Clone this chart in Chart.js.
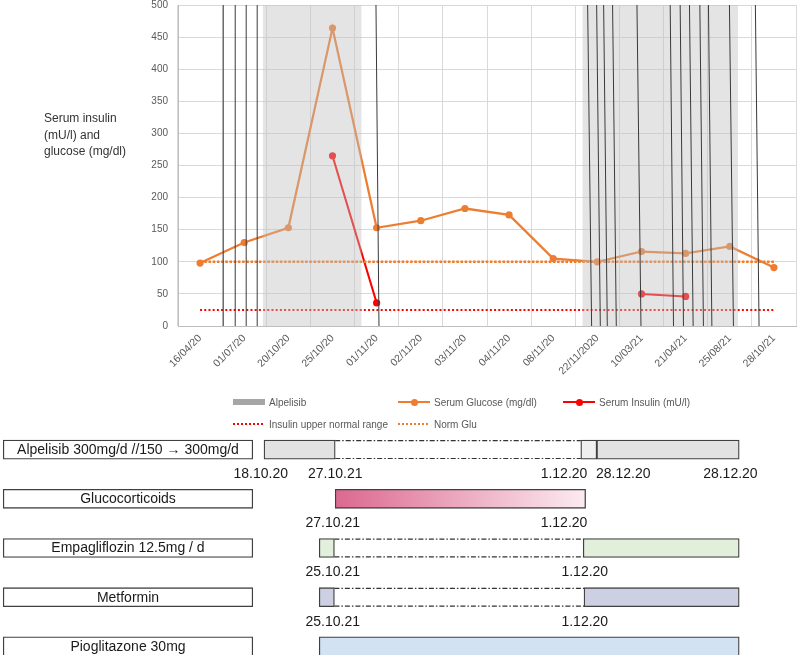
<!DOCTYPE html>
<html>
<head>
<meta charset="utf-8">
<script src="https://cdn.jsdelivr.net/npm/chart.js@4"></script>
<style>
  html, body { margin: 0; padding: 0; background: #fff; }
  #page { position: relative; width: 800px; height: 655px; overflow: hidden; background: #fff; font-family: "Liberation Sans", Arial, sans-serif; }
  #main { position: absolute; left: 0; top: 0; }
  #timeline { position: absolute; left: 0; top: 425px; }
  #ytitle { position: absolute; left: 44px; top: 110px; font-size: 12px; line-height: 16.7px; color: #333; }
  #legend { position: absolute; left: 233px; top: 393px; display: grid; grid-template-columns: 165px 165px 165px; row-gap: 4px; font-size: 10px; color: #595959; z-index: 2; }
  .li { display: flex; align-items: center; height: 18px; white-space: nowrap; }
  .sw { position: relative; width: 32px; height: 10px; margin-right: 4px; flex: none; }
</style>
</head>
<body>
<div id="page">
  <canvas id="main" width="800" height="390"></canvas>
  <div id="ytitle">Serum insulin<br>(mU/l) and<br>glucose (mg/dl)</div>
  <div id="legend"></div>
  <canvas id="timeline" width="800" height="246"></canvas>
</div>
<script>
// ---------- data: main chart ----------
const categories = ['16/04/20','01/07/20','20/10/20','25/10/20','01/11/20','02/11/20','03/11/20','04/11/20','08/11/20','22/11/2020','10/03/21','21/04/21','25/08/21','28/10/21'];
const serumGlucose = [98, 130, 153, 464, 153, 164, 183, 173, 105, 100, 116, 113, 124, 91];
const serumInsulin = [null, null, null, 265, 36, null, null, null, null, null, 50, 46, null, null];
const insulinUpperNormal = [25, 25, 25, 25, 25, 25, 25, 25, 25, 25, 25, 25, 25, 25];
const normGlu = [100, 100, 100, 100, 100, 100, 100, 100, 100, 100, 100, 100, 100, 100];
// Alpelisib periods in category-index units [start, end]
const alpelisibPeriods = [[1.42, 3.66], [8.66, 12.19]];
// event marker lines in category-index units [at y=0, at y=500]
const eventMarks = [[0.525,0.525],[0.796,0.796],[1.045,1.045],[1.294,1.294],[4.053,3.985],[8.870,8.780],[9.067,8.984],[9.225,9.142],[9.429,9.345],[9.988,9.897],[10.725,10.650],[10.951,10.876],[11.170,11.087],[11.403,11.322],[11.594,11.517],[12.083,11.992],[12.663,12.580]];
const yTicksMax = 500;

// ---------- data: treatment timeline ----------
const drugs = ['Alpelisib 300mg/d //150 \u2192 300mg/d', 'Glucocorticoids', 'Empagliflozin 12.5mg / d', 'Metformin', 'Pioglitazone 30mg'];
const labelSpan = [0.4, 31.6];
const alpelisibOn = [[33, 41.9], [74.6, 92.4]];
const alpelisibReduced = [[72.6, 74.6]];
const glucocorticoidSpan = [[41.9, 73.2]];
const empagliflozinOn = [[39.9, 41.8], [72.9, 92.4]];
const metforminOn = [[39.9, 41.8], [73.0, 92.4]];
const pioglitazoneOn = [[39.9, 92.4]];
const pauses = [[0, 41.9, 72.6], [2, 41.8, 72.9], [3, 41.8, 73.0]];
const dateLabels = [
  [0, 32.6, '18.10.20'], [0, 41.9, '27.10.21'], [0, 70.5, '1.12.20'], [0, 77.9, '28.12.20'], [0, 91.3, '28.12.20'],
  [1, 41.6, '27.10.21'], [1, 70.5, '1.12.20'],
  [2, 41.6, '25.10.21'], [2, 73.1, '1.12.20'],
  [3, 41.6, '25.10.21'], [3, 73.1, '1.12.20']
];

// ---------- main chart ----------
const GLU = '#ed7d31', INS = '#ff0000';
const datasets = [];
datasets.push({ label: 'Serum Glucose (mg/dl)', data: serumGlucose, borderColor: GLU, backgroundColor: GLU,
  borderWidth: 2.25, pointRadius: 3.6, pointBorderWidth: 0, order: 6 });
datasets.push({ label: 'Serum Insulin (mU/l)', data: serumInsulin, borderColor: INS, backgroundColor: INS,
  borderWidth: 2, pointRadius: 3.6, pointBorderWidth: 0, spanGaps: false, order: 5 });
datasets.push({ label: 'Insulin upper normal range', data: insulinUpperNormal, borderColor: INS,
  borderWidth: 2, borderDash: [2, 2.2], pointRadius: 0, order: 4 });
datasets.push({ label: 'Norm Glu', data: normGlu, borderColor: GLU,
  borderWidth: 2.6, borderDash: [2.6, 1.6], pointRadius: 0, order: 3 });
alpelisibPeriods.forEach((p, i) => datasets.push({
  label: i === 0 ? 'Alpelisib' : 'Alpelisib ' + i, xAxisID: 'xm',
  data: [{ x: p[0], y: yTicksMax }, { x: p[1], y: yTicksMax }],
  fill: 'origin', backgroundColor: 'rgba(190,190,190,0.42)', borderWidth: 0, pointRadius: 0, order: 2
}));
eventMarks.forEach((m, i) => datasets.push({
  label: 'mark' + i, xAxisID: 'xm',
  data: [{ x: m[0], y: 0 }, { x: m[1], y: yTicksMax }],
  borderColor: '#3a3a3a', borderWidth: 1, pointRadius: 0, fill: false, order: 1
}));

new Chart(document.getElementById('main'), {
  type: 'line',
  data: { labels: categories, datasets },
  options: {
    responsive: false, animation: false, devicePixelRatio: 1,
    layout: { padding: { top: 5, right: 3, left: 0, bottom: 0 } },
    plugins: { legend: { display: false }, tooltip: { enabled: false } },
    scales: {
      x: {
        type: 'category', offset: true,
        grid: { offset: true, color: '#d9d9d9', drawTicks: false },
        border: { color: '#bfbfbf' },
        ticks: { autoSkip: false, maxRotation: 45, minRotation: 45, color: '#595959', padding: 6,
          font: { family: 'Liberation Sans', size: 10.5 } },
        afterFit: s => { s.height = 64; s.paddingTop = 0; }
      },
      xm: { type: 'linear', display: false, min: -0.5, max: 13.5 },
      y: {
        min: 0, max: yTicksMax,
        ticks: { stepSize: 50, color: '#595959', padding: 10, font: { family: 'Liberation Sans', size: 10 } },
        grid: { color: '#d9d9d9', drawTicks: false },
        border: { color: '#bfbfbf' },
        afterFit: s => { s.width = 178; s.paddingTop = 0; s.paddingBottom = 0; }
      }
    }
  }
});

// ---------- HTML legend ----------
const legendItems = [
  { text: 'Alpelisib', sw: '<div style="position:absolute;left:0;top:2px;width:32px;height:6px;background:#a6a6a6"></div>' },
  { text: 'Serum Glucose (mg/dl)', sw: '<div style="position:absolute;left:0;top:4px;width:32px;height:2px;background:' + GLU + '"></div><div style="position:absolute;left:13px;top:1.5px;width:7px;height:7px;border-radius:50%;background:' + GLU + '"></div>' },
  { text: 'Serum Insulin (mU/l)', sw: '<div style="position:absolute;left:0;top:4px;width:32px;height:2px;background:' + INS + '"></div><div style="position:absolute;left:13px;top:1.5px;width:7px;height:7px;border-radius:50%;background:' + INS + '"></div>' },
  { text: 'Insulin upper normal range', sw: '<div style="position:absolute;left:0;top:4px;width:30px;height:0;border-top:2px dotted ' + INS + '"></div>' },
  { text: 'Norm Glu', sw: '<div style="position:absolute;left:0;top:4px;width:30px;height:0;border-top:2px dotted ' + GLU + '"></div>' }
];
document.getElementById('legend').innerHTML = legendItems.map(it =>
  '<div class="li"><div class="sw">' + it.sw + '</div><span>' + it.text + '</span></div>').join('');

// ---------- timeline chart ----------
const toRows = (spans, row) => spans.map(s => ({ x: [s[0], s[1]], y: row }));
const BORDER = '#404040';
const tds = [];
tds.push({ label: 'pause', data: pauses.map(p => ({ x: [p[1], p[2]], y: p[0] })),
  backgroundColor: 'rgba(0,0,0,0)', borderWidth: 0 });
tds.push({ label: 'labels', data: drugs.map((d, i) => ({ x: labelSpan, y: i })),
  backgroundColor: '#ffffff', borderColor: BORDER, borderWidth: 1.3 });
tds.push({ label: 'Alpelisib', data: toRows(alpelisibOn, 0), backgroundColor: '#e2e2e2', borderColor: BORDER, borderWidth: 1.3 });
tds.push({ label: 'Alpelisib reduced', data: toRows(alpelisibReduced, 0), backgroundColor: '#f0f0f0', borderColor: BORDER, borderWidth: 1.3 });
tds.push({ label: 'Glucocorticoids', data: toRows(glucocorticoidSpan, 1), borderColor: BORDER, borderWidth: 1.3,
  backgroundColor: (ctx) => {
    const ch = ctx.chart, raw = ctx.raw;
    if (!ch.chartArea || !raw) return '#e8a0b8';
    const xs = ch.scales.x;
    const g = ch.ctx.createLinearGradient(xs.getPixelForValue(raw.x[0]), 0, xs.getPixelForValue(raw.x[1]), 0);
    g.addColorStop(0, '#dc6890'); g.addColorStop(1, '#fcebf1');
    return g;
  } });
tds.push({ label: 'Empagliflozin', data: toRows(empagliflozinOn, 2), backgroundColor: '#e2efda', borderColor: BORDER, borderWidth: 1.3 });
tds.push({ label: 'Metformin', data: toRows(metforminOn, 3), backgroundColor: '#cdd0e3', borderColor: BORDER, borderWidth: 1.3 });
tds.push({ label: 'Pioglitazone', data: toRows(pioglitazoneOn, 4), backgroundColor: '#d2e2f3', borderColor: BORDER, borderWidth: 1.3 });
tds.forEach(d => { d.barThickness = 19; d.borderSkipped = false; d.grouped = false; });

const timelinePlugin = {
  id: 'timelineText',
  beforeDatasetsDraw(chart) {
    const ctx = chart.ctx;
    const meta = chart.getDatasetMeta(0);
    ctx.save();
    ctx.strokeStyle = '#333'; ctx.lineWidth = 1.2; ctx.setLineDash([5, 2, 1.5, 2]);
    meta.data.forEach(el => {
      const p = el.getProps(['x', 'base', 'y', 'height'], true);
      const l = Math.min(p.x, p.base), r = Math.max(p.x, p.base);
      const t = p.y - p.height / 2 + 0.6, b = p.y + p.height / 2 - 0.6;
      ctx.beginPath(); ctx.moveTo(l, t); ctx.lineTo(r, t); ctx.moveTo(l, b); ctx.lineTo(r, b); ctx.stroke();
    });
    ctx.restore();
  },
  afterDatasetsDraw(chart) {
    const ctx = chart.ctx, xs = chart.scales.x, ys = chart.scales.y;
    ctx.save();
    ctx.fillStyle = '#1a1a1a';
    ctx.font = '14px "Liberation Sans", Arial, sans-serif';
    ctx.textAlign = 'center'; ctx.textBaseline = 'middle';
    const meta = chart.getDatasetMeta(1);
    meta.data.forEach((el, i) => {
      const p = el.getProps(['x', 'base', 'y'], true);
      ctx.fillText(drugs[i], (p.x + p.base) / 2, p.y + 0.5);
    });
    dateLabels.forEach(d => {
      ctx.fillText(d[2], xs.getPixelForValue(d[1]), ys.getPixelForValue(d[0] + 0.5));
    });
    ctx.restore();
  }
};

new Chart(document.getElementById('timeline'), {
  type: 'bar',
  data: { datasets: tds },
  plugins: [timelinePlugin],
  options: {
    indexAxis: 'y', responsive: false, animation: false, devicePixelRatio: 1,
    layout: { padding: 0 },
    plugins: { legend: { display: false }, tooltip: { enabled: false } },
    scales: {
      x: { type: 'linear', min: 0, max: 100, display: false, offset: false },
      y: { type: 'linear', min: -0.5, max: 4.5, reverse: true, display: false, offset: false }
    }
  }
});
</script>
</body>
</html>
